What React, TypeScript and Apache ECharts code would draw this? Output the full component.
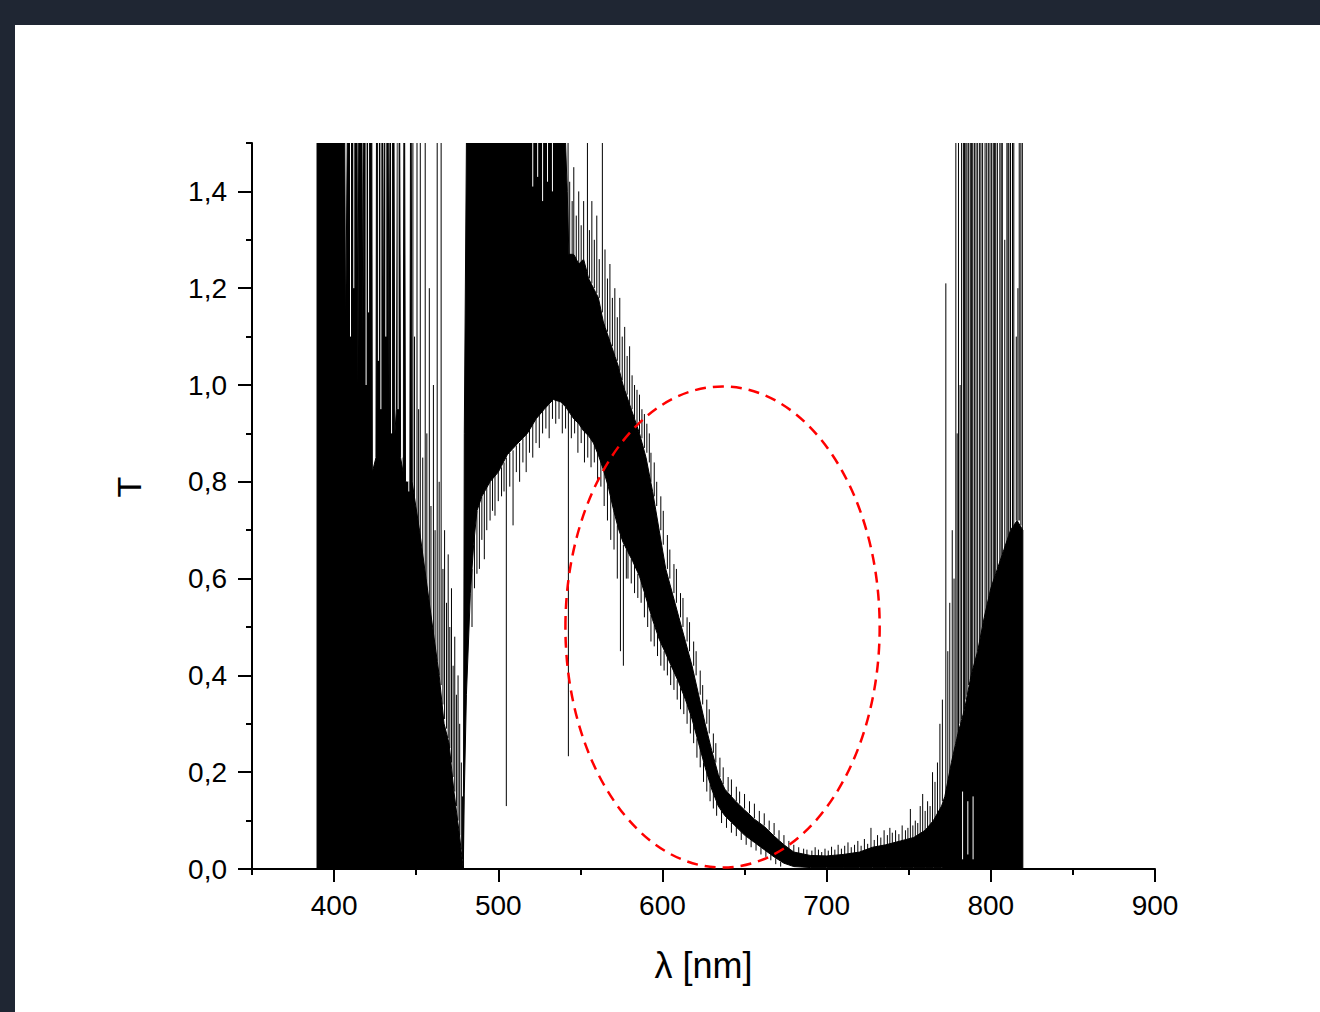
import React, { useEffect, useRef } from "react";
import * as echarts from "echarts";

// ---- axis ticks ----
const xMajorTicks = [400, 500, 600, 700, 800, 900];
const yMajorTicks = [0, 0.2, 0.4, 0.6, 0.8, 1.0, 1.2, 1.4];

// ---- dense (saturated) part of the spectrum: [wavelength nm, lower T, upper T] ----
const coreBlue = [
  [389.6, 0, 1.5], [406.5, 0, 1.5], [407, 0, 1.1], [408, 0, 1.5], [414, 0, 1.5], [414.5, 0, 1.0], [415, 0, 1.5],
  [417, 0, 1.5], [417.5, 0, 1.1], [418, 0, 1.5], [423, 0, 1.5], [423.3, 0, 0.82], [425.5, 0, 0.85], [425.8, 0, 1.5],
  [429.5, 0, 1.5], [430, 0, 1.0], [430.5, 0, 1.5], [433, 0, 1.5], [433.5, 0, 0.95], [434, 0, 1.5], [436.5, 0, 1.5],
  [437, 0, 0.9], [438, 0, 0.95], [438.5, 0, 1.5], [440, 0, 1.5], [440.5, 0, 0.85], [442, 0, 0.82], [442.5, 0, 1.5],
  [443, 0, 1.5], [443.5, 0, 0.8], [446, 0, 0.8], [446.5, 0, 1.5], [447, 0, 1.5], [447.5, 0, 0.8], [452, 0, 0.7],
  [456, 0, 0.6], [460, 0, 0.5], [464, 0, 0.4], [467, 0, 0.3], [470, 0, 0.26], [473, 0, 0.16], [476, 0, 0.08],
  [478.7, 0, 0],
];
const coreGreen = [
  [479.3, 0.155, 0.9], [480.6, 0.36, 1.5], [483, 0.57, 1.5], [485, 0.67, 1.5], [487, 0.74, 1.5], [490, 0.77, 1.5],
  [495, 0.8, 1.5], [500, 0.82, 1.5], [505.5, 0.856, 1.5], [512, 0.88, 1.5], [517.7, 0.9, 1.5], [523, 0.93, 1.5],
  [528, 0.95, 1.5], [533.5, 0.97, 1.5], [538, 0.965, 1.5], [541, 0.955, 1.5], [542, 0.95, 1.4], [543, 0.945, 1.27],
  [546, 0.93, 1.27], [549, 0.92, 1.25], [552, 0.905, 1.26], [555, 0.895, 1.22], [558, 0.88, 1.2], [561, 0.855, 1.18],
  [564, 0.825, 1.13], [567, 0.79, 1.1], [570, 0.745, 1.07], [573, 0.705, 1.04],
];
const coreOrange = [
  [576, 0.675, 1.0], [579, 0.655, 0.97], [582, 0.635, 0.94], [586, 0.605, 0.9], [590, 0.56, 0.85], [594, 0.515, 0.78],
  [598, 0.475, 0.7], [602, 0.445, 0.62], [606, 0.415, 0.57], [610, 0.385, 0.52], [614, 0.35, 0.47], [618, 0.31, 0.42],
  [622, 0.26, 0.36], [626, 0.21, 0.3], [630, 0.165, 0.245], [634, 0.13, 0.195], [638, 0.11, 0.165],
  [644, 0.09, 0.142], [650, 0.07, 0.122], [656, 0.055, 0.103], [662, 0.04, 0.088], [668, 0.025, 0.068],
  [674, 0.012, 0.05], [680, 0.005, 0.035],
];
const coreRed = [
  [690, 0.003, 0.028], [700, 0.003, 0.027], [710, 0.003, 0.03], [720, 0.003, 0.035], [728, 0.003, 0.045],
  [736, 0.003, 0.05], [745, 0.003, 0.058], [753, 0.003, 0.065], [760, 0.003, 0.08], [765, 0.003, 0.1],
];
const coreNir = [
  [770, 0.003, 0.13], [772, 0, 0.15], [776, 0, 0.22], [780, 0, 0.28], [784, 0, 0.33], [788, 0, 0.4], [792, 0, 0.45],
  [796, 0, 0.52], [800, 0, 0.58], [804, 0, 0.62], [808, 0, 0.66], [812, 0, 0.7], [816, 0, 0.72], [819.5, 0, 0.7],
];

// ---- isolated noise spikes: [wavelength nm, from T, to T] ----
const spikesBlue = [
  [448, 0.7, 1.5], [449, 0.68, 1.1], [450.5, 0.66, 1.5], [451.5, 0.64, 0.95], [452.5, 0.62, 1.5], [454, 0.6, 0.85],
  [455.5, 0.57, 1.5], [456.5, 0.55, 0.9], [458, 0.52, 1.2], [459, 0.5, 0.75], [460.5, 0.47, 1.0], [461.5, 0.45, 0.7],
  [462.8, 0.43, 1.5], [464, 0.4, 0.8], [465.2, 0.38, 1.5], [466.3, 0.34, 0.62], [467.3, 0.31, 0.7], [468.5, 0.29, 0.55],
  [469.5, 0.27, 0.65], [470.5, 0.25, 0.5], [471.5, 0.22, 0.58], [472.5, 0.19, 0.42], [473.5, 0.16, 0.48],
  [474.5, 0.13, 0.36], [475.5, 0.1, 0.4], [476.5, 0.07, 0.3], [477.5, 0.04, 0.22], [478.2, 0.02, 0.15],
];
const spikesGreenLow = [
  [484, 0.62, 0.5], [485.5, 0.69, 0.58], [487, 0.74, 0.61], [488.5, 0.76, 0.62], [490, 0.77, 0.68], [491.5, 0.78, 0.64],
  [493, 0.79, 0.7], [495, 0.8, 0.72], [496.5, 0.81, 0.74], [498, 0.815, 0.73], [500, 0.82, 0.76], [502, 0.83, 0.77],
  [503.5, 0.84, 0.78], [504.9, 0.85, 0.13], [507, 0.86, 0.79], [509, 0.865, 0.71], [511, 0.875, 0.82], [513, 0.88, 0.8],
  [515, 0.89, 0.84], [517, 0.9, 0.82], [519, 0.91, 0.86], [521, 0.92, 0.85], [523, 0.93, 0.88], [525, 0.94, 0.87],
  [527, 0.95, 0.9], [529, 0.955, 0.91], [531, 0.96, 0.89], [533, 0.97, 0.93], [535, 0.97, 0.92], [537, 0.965, 0.93],
  [539, 0.96, 0.9], [541, 0.955, 0.91], [542.7, 0.95, 0.233], [544.5, 0.94, 0.89], [546.5, 0.93, 0.9],
  [548.5, 0.925, 0.86], [550.5, 0.915, 0.88], [552.5, 0.905, 0.84], [554.5, 0.9, 0.85], [556.5, 0.89, 0.83],
  [558.5, 0.88, 0.84], [560.5, 0.86, 0.8], [562.5, 0.845, 0.79], [564.5, 0.82, 0.75], [566.5, 0.8, 0.72],
  [568.5, 0.77, 0.68], [570.5, 0.74, 0.66], [572.5, 0.71, 0.6], [574.4, 0.69, 0.45], [576.2, 0.67, 0.42],
  [578, 0.66, 0.6], [579, 0.655, 0.6], [581, 0.64, 0.59], [583, 0.63, 0.57], [585, 0.61, 0.56], [587, 0.595, 0.55],
  [589, 0.57, 0.52], [591, 0.55, 0.5],
];
const spikesGreenTop = [
  [542.5, 1.3, 1.5], [543.5, 1.25, 1.42], [545, 1.27, 1.38], [546, 1.27, 1.45], [547.5, 1.25, 1.35], [549, 1.24, 1.4],
  [550.5, 1.25, 1.33], [552, 1.26, 1.38], [554.3, 1.23, 1.5], [555.5, 1.22, 1.32], [557, 1.21, 1.38],
  [558.5, 1.2, 1.3], [560, 1.19, 1.35], [561.5, 1.18, 1.26], [563.4, 1.15, 1.5], [565, 1.12, 1.28],
  [566.5, 1.11, 1.22], [568, 1.09, 1.25], [569.5, 1.08, 1.18], [571, 1.06, 1.2], [572.5, 1.05, 1.14],
  [574, 1.03, 1.18], [575.5, 1.01, 1.1], [577, 0.99, 1.12], [578.5, 0.98, 1.06], [580, 0.96, 1.08],
  [581.5, 0.95, 1.02], [583, 0.93, 1.0], [584.5, 0.92, 0.99], [586, 0.9, 0.98], [587.5, 0.89, 0.95],
  [589, 0.87, 0.94], [590.5, 0.86, 0.92], [592, 0.84, 0.9],
];
const spikesOrangeUp = [
  [593, 0.8, 0.86], [595, 0.77, 0.84], [596.5, 0.75, 0.8], [599, 0.7, 0.77], [600.5, 0.67, 0.74], [603, 0.62, 0.69],
  [604.5, 0.6, 0.66], [607, 0.57, 0.63], [608.5, 0.55, 0.62], [611, 0.52, 0.57], [612.5, 0.5, 0.56], [615, 0.47, 0.52],
  [616.5, 0.45, 0.51], [619, 0.42, 0.47], [620.5, 0.4, 0.45], [623, 0.36, 0.41], [624.5, 0.34, 0.38], [627, 0.3, 0.35],
  [628.5, 0.28, 0.33], [631, 0.24, 0.28], [632.5, 0.22, 0.26], [635, 0.19, 0.23], [637, 0.175, 0.21], [640, 0.16, 0.19],
  [642, 0.15, 0.185], [645, 0.14, 0.17], [647, 0.135, 0.16], [650, 0.125, 0.155], [653, 0.115, 0.14],
  [656, 0.105, 0.135], [659, 0.095, 0.12], [662, 0.09, 0.115], [665, 0.08, 0.1], [668, 0.07, 0.095], [671, 0.06, 0.08],
  [674, 0.05, 0.07], [677, 0.04, 0.058], [680, 0.035, 0.05], [683, 0.03, 0.045], [686, 0.03, 0.042],
];
const spikesOrangeLow = [
  [593, 0.525, 0.47], [595, 0.505, 0.46], [597, 0.485, 0.44], [599, 0.47, 0.42], [601, 0.45, 0.41], [603, 0.44, 0.4],
  [605, 0.42, 0.38], [607, 0.41, 0.37], [609, 0.39, 0.35], [611, 0.375, 0.33], [613, 0.36, 0.32], [615, 0.34, 0.3],
  [617, 0.32, 0.28], [619, 0.3, 0.26], [621, 0.27, 0.23], [623, 0.25, 0.21], [625, 0.22, 0.18], [627, 0.2, 0.16],
  [629, 0.175, 0.14], [631, 0.16, 0.125], [633, 0.14, 0.11], [636, 0.12, 0.095], [639, 0.105, 0.085],
  [642, 0.095, 0.075], [645, 0.088, 0.068], [648, 0.078, 0.06], [651, 0.068, 0.05], [654, 0.06, 0.045],
  [657, 0.052, 0.038], [660, 0.045, 0.03], [663, 0.038, 0.025], [666, 0.03, 0.018], [669, 0.022, 0.01],
  [672, 0.015, 0.005],
];
const spikesRed = [
  [688, 0.02, 0.04], [691, 0.02, 0.038], [693, 0.02, 0.045], [695, 0.02, 0.04], [697, 0.02, 0.035], [699, 0.02, 0.042],
  [701, 0.02, 0.038], [703, 0.02, 0.046], [705, 0.02, 0.04], [707, 0.02, 0.05], [709, 0.02, 0.042], [711, 0.02, 0.048],
  [713, 0.02, 0.055], [715, 0.025, 0.045], [717, 0.025, 0.05], [719, 0.025, 0.058], [721, 0.025, 0.048],
  [723, 0.03, 0.062], [725, 0.03, 0.052], [727, 0.03, 0.085], [729, 0.035, 0.06], [731, 0.035, 0.07],
  [733, 0.04, 0.065], [735, 0.04, 0.08], [737, 0.04, 0.07], [738.5, 0.04, 0.085], [740, 0.045, 0.075],
  [742, 0.045, 0.08], [744, 0.05, 0.072], [746, 0.05, 0.09], [748, 0.05, 0.08], [749.5, 0.055, 0.085],
  [751, 0.055, 0.124], [752.5, 0.055, 0.09], [754, 0.06, 0.1], [755.5, 0.06, 0.095], [757, 0.065, 0.13],
  [758.5, 0.065, 0.155], [760, 0.07, 0.12], [761.5, 0.075, 0.14], [763, 0.08, 0.13], [764.5, 0.085, 0.2],
  [766, 0.09, 0.18], [767.5, 0.1, 0.22], [769, 0.12, 0.3], [770.5, 0.14, 0.35], [772.6, 0.15, 1.21],
];
const spikesNir = [
  [773.8, 0.17, 0.45], [775, 0.19, 0.55], [776.5, 0.22, 0.7], [777.6, 0.24, 0.6], [778.7, 0.26, 1.5],
  [779.5, 0.27, 0.9], [780.3, 0.28, 1.5], [781.3, 0.3, 1.0], [782.2, 0.31, 1.5], [783.3, 0.32, 1.5], [784, 0.33, 1.5],
  [784.8, 0.35, 1.5], [785.5, 0.36, 1.5], [786.5, 0.38, 1.5], [787.5, 0.39, 1.5], [788.3, 0.4, 1.5], [789, 0.41, 1.5],
  [790, 0.42, 1.5], [791, 0.43, 1.5], [792, 0.45, 1.5], [793.2, 0.46, 1.5], [794, 0.48, 1.5], [795, 0.5, 1.5],
  [796.5, 0.52, 1.5], [797.5, 0.53, 1.5], [798.5, 0.55, 1.5], [799.5, 0.57, 1.5], [800.5, 0.58, 1.5],
  [801.5, 0.59, 1.5], [802.3, 0.6, 1.5], [803, 0.61, 1.5], [804, 0.62, 1.5], [805.5, 0.63, 1.5], [806.3, 0.64, 1.5],
  [807, 0.65, 1.5], [808.5, 0.66, 1.3], [809.8, 0.67, 1.5], [810.5, 0.68, 1.5], [811, 0.69, 1.5], [812, 0.7, 1.5],
  [813.2, 0.7, 1.5], [814, 0.71, 1.5], [815.5, 0.72, 1.1], [816.5, 0.72, 1.2], [817.3, 0.72, 1.5],
  [818.3, 0.71, 1.5], [819.2, 0.7, 1.5],
];

// ---- thin uncovered stripes inside saturated areas: [wavelength nm, from T, to T] ----
const gapsWhite = [
  [410, 1.1, 1.5], [412, 1.2, 1.5], [419.5, 1.0, 1.5], [421, 1.15, 1.5], [427, 1.05, 1.5], [428.5, 0.95, 1.5],
  [431.5, 1.1, 1.5], [435, 0.9, 1.5], [439, 0.95, 1.5], [441.5, 0.85, 1.5], [444.5, 0.8, 1.5], [445.5, 0.78, 1.5],
  [521, 1.41, 1.5], [524, 1.43, 1.5], [527, 1.38, 1.5], [530, 1.42, 1.5], [533, 1.4, 1.5],
  [782.8, 0.02, 0.16], [786, 0.03, 0.14], [789.2, 0.02, 0.15],
];

// ---- highlighted region (dashed ellipse), in data units ----
const ellipseCenter = [636.6, 0.5];
const ellipseRadius = [95.7, 0.497];

const FONT = "'Liberation Sans', Arial, sans-serif";

const segmentSeries = (data: number[][], color: string) => ({
  type: "custom",
  xAxisIndex: 0,
  yAxisIndex: 0,
  clip: true,
  data,
  encode: { x: 0, y: [1, 2] },
  renderItem: (_params: any, api: any) => {
    const p1 = api.coord([api.value(0), api.value(1)]);
    const p2 = api.coord([api.value(0), api.value(2)]);
    return {
      type: "line",
      shape: { x1: p1[0], y1: p1[1], x2: p2[0], y2: p2[1] },
      style: { stroke: color, lineWidth: 1 },
    };
  },
});

export default function App() {
  const ref = useRef<HTMLDivElement>(null);

  useEffect(() => {
    document.body.style.margin = "0";
    if (!ref.current) return;
    const chart = echarts.init(ref.current, undefined, { renderer: "svg" });

    const core = [...coreBlue, ...coreGreen, ...coreOrange, ...coreRed, ...coreNir];
    const spikes = [
      ...spikesBlue,
      ...spikesGreenLow,
      ...spikesGreenTop,
      ...spikesOrangeUp,
      ...spikesOrangeLow,
      ...spikesRed,
      ...spikesNir,
    ];

    chart.setOption({
      animation: false,
      backgroundColor: "#ffffff",
      grid: { left: 237, top: 118, width: 903, height: 726 },
      xAxis: [
        {
          type: "value",
          min: 350,
          max: 900,
          position: "bottom",
          axisLine: { show: true, onZero: false, lineStyle: { color: "#000", width: 2 } },
          axisTick: { show: true, length: 13, customValues: xMajorTicks, lineStyle: { color: "#000", width: 2 } },
          axisLabel: { customValues: xMajorTicks, fontSize: 28, color: "#000", fontFamily: FONT, margin: 22 },
          splitLine: { show: false },
          name: "λ [nm]",
          nameLocation: "middle",
          nameGap: 78,
          nameTextStyle: { fontSize: 36, color: "#000", fontFamily: FONT },
        },
        {
          type: "value",
          min: 350,
          max: 900,
          interval: 50,
          position: "bottom",
          axisLine: { show: false },
          axisTick: { show: true, length: 6, lineStyle: { color: "#000", width: 2 } },
          axisLabel: { show: false },
          splitLine: { show: false },
        },
      ],
      yAxis: [
        {
          type: "value",
          min: 0,
          max: 1.5,
          position: "left",
          axisLine: { show: true, onZero: false, lineStyle: { color: "#000", width: 2 } },
          axisTick: { show: true, length: 14, customValues: yMajorTicks, lineStyle: { color: "#000", width: 2 } },
          axisLabel: {
            customValues: yMajorTicks,
            fontSize: 28,
            color: "#000",
            fontFamily: FONT,
            margin: 25,
            formatter: (v: number) => v.toFixed(1).replace(".", ","),
          },
          splitLine: { show: false },
        },
        {
          type: "value",
          min: 0,
          max: 1.5,
          interval: 0.1,
          position: "left",
          axisLine: { show: false },
          axisTick: { show: true, length: 6, lineStyle: { color: "#000", width: 2 } },
          axisLabel: { show: false },
          splitLine: { show: false },
        },
      ],
      series: [
        {
          type: "custom",
          xAxisIndex: 0,
          yAxisIndex: 0,
          clip: true,
          data: core,
          encode: { x: 0, y: [1, 2] },
          renderItem: (params: any, api: any) => {
            if (params.dataIndex !== 0) return null;
            const pts: number[][] = [];
            for (let i = 0; i < core.length; i++) pts.push(api.coord([core[i][0], core[i][2]]));
            for (let i = core.length - 1; i >= 0; i--) pts.push(api.coord([core[i][0], core[i][1]]));
            return {
              type: "polygon",
              shape: { points: pts },
              style: { fill: "#000", stroke: "#000", lineWidth: 1 },
            };
          },
        },
        segmentSeries(gapsWhite, "#ffffff"),
        segmentSeries(spikes, "#000000"),
      ],
    });

    const c = chart.convertToPixel({ gridIndex: 0 }, ellipseCenter) as number[];
    const e = chart.convertToPixel({ gridIndex: 0 }, [
      ellipseCenter[0] + ellipseRadius[0],
      ellipseCenter[1] + ellipseRadius[1],
    ]) as number[];

    chart.setOption({
      graphic: [
        {
          type: "ellipse",
          z: 100,
          shape: { cx: c[0], cy: c[1], rx: Math.abs(e[0] - c[0]), ry: Math.abs(c[1] - e[1]) },
          style: { fill: "none", stroke: "#ff0000", lineWidth: 2.5, lineDash: [11, 7] },
        },
        {
          type: "text",
          z: 100,
          x: 114,
          y: 462,
          rotation: Math.PI / 2,
          style: {
            text: "T",
            font: `34px ${FONT}`,
            fill: "#000",
            align: "center",
            verticalAlign: "middle",
          },
        },
      ],
    });

    return () => chart.dispose();
  }, []);

  return (
    <div style={{ position: "relative", width: 1320, height: 1012, background: "#1f2633", overflow: "hidden" }}>
      <div
        ref={ref}
        style={{ position: "absolute", left: 15, top: 25, width: 1305, height: 987, background: "#fff" }}
      />
    </div>
  );
}
